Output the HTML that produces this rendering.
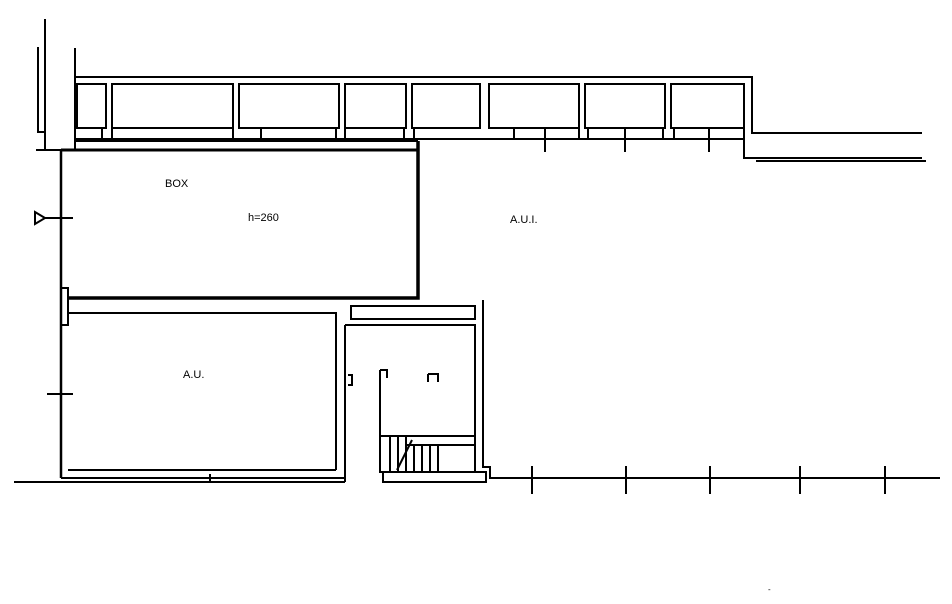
<!DOCTYPE html><html><head><style>body{margin:0;background:#fff}svg{display:block}</style></head><body>
<svg width="952" height="604" viewBox="0 0 952 604" xmlns="http://www.w3.org/2000/svg" font-family="Liberation Sans, sans-serif">
<g stroke="#000" fill="none" stroke-width="2">
<path d="M45 19V150M38 47V132H45M75 48V150M36 150H75"/>
<path d="M75 77H752V133H922"/>
<path d="M744 84V158H922M756 161H926" />
<rect x="77" y="84" width="29" height="44"/><rect x="112" y="84" width="121" height="44"/><rect x="239" y="84" width="100" height="44"/><rect x="345" y="84" width="61" height="44"/><rect x="412" y="84" width="68" height="44"/><rect x="489" y="84" width="90" height="44"/><rect x="585" y="84" width="80" height="44"/><rect x="671" y="84" width="73" height="44"/>
<path d="M75 139H744M75 141H418M102 128V139M112 128V139M233 128V139M261 128V139M336 128V139M345 128V139M404 128V139M414 128V139M514 128V139M579 128V139M588 128V139M663 128V139M674 128V139"/>
<path d="M545 128V152M625 128V152M709 128V152"/>
<path d="M61 150H418" stroke-width="3"/>
<path d="M61 150V478" stroke-width="2.5"/>
<path d="M418 141V298H68" stroke-width="3.5"/>
<path d="M35 212L45 218L35 224Z M45 218H73"/>
<rect x="61" y="288" width="7" height="37"/>
<path d="M68 313H336V470M68 470H336M61 478H345M345 325V482M14 482H345M47 394H73M210 474V482"/>
<rect x="351" y="306" width="124" height="13"/>
<path d="M345 325H475V445M483 300V467H490V478H940"/>
<path d="M532 466V494M626 466V494M710 466V494M800 466V494M885 466V494"/>
<rect x="380" y="436" width="95" height="36"/>
<rect x="383" y="472" width="103" height="10"/>
<path d="M390 436V472M398 436V472M406 436V472M414 445V472M422 445V472M430 445V472M438 445V472M406 445H475M397 470L412 440M380 370V436M380 370H387V378M428 374H438V382M428 374V382"/>
<path d="M348 375H352V385H348"/>
</g>
<g font-size="11" fill="#000">
<text x="165" y="187">BOX</text>
<text x="248" y="221">h=260</text>
<text x="510" y="223">A.U.I.</text>
<text x="183" y="378">A.U.</text>
<text x="768" y="592" font-size="8">-</text>
</g>
</svg>
</body></html>
